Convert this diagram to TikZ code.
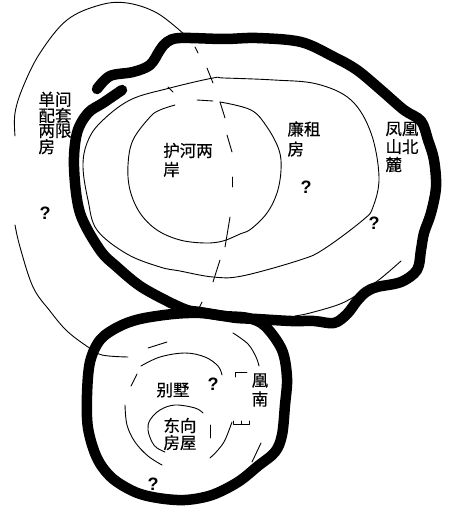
\documentclass[tikz,border=0pt]{standalone}
\usepackage{fontspec}
\setmainfont{Liberation Sans}
\newfontfamily\cjk[FakeBold=0.35]{Noto Sans CJK SC}
\begin{document}
\begin{tikzpicture}[x=1pt,y=-1pt,
  heavy/.style={line width=10.5pt, line cap=round, line join=round},
  thin/.style={line width=0.9pt, line cap=round, line join=round},
  lbl/.style={font=\cjk\fontsize{16.5}{#1}\selectfont, align=left, inner sep=0pt},
  qm/.style={font=\bfseries\fontsize{18}{18}\selectfont, inner sep=0pt}]
\useasboundingbox (0,0) rectangle (448,508);

% ---------- thin outer loop (single rooms) ----------
\draw[thin] plot[smooth, tension=0.6] coordinates {(185,35) (157,13) (127,3) (100,5) (67,20) (40,53) (23,87) (15,113) (15,136)};
\draw[thin] plot[smooth, tension=0.6] coordinates {(15,225) (20,247) (33,287) (50,311) (67,331) (88,347) (102,355) (128,357)};
\draw[thin] (148,348) -- (167,342);
% dashed right side
\draw[thin] (195,47) -- (198,53);
\draw[thin] (207,68) -- (213,83);
\draw[thin] (220,102) -- (225,118);
\draw[thin] (227,135) -- (232,152);
\draw[thin] (232,177) -- (232,187);
\draw[thin] (230,217) -- (225,247);
\draw[thin] (220,260) -- (213,282);
\draw[thin] (202,302) -- (198,310);

% ---------- middle ellipse ----------
\draw[thin] plot[smooth cycle, tension=0.6] coordinates {(224,78) (274,80) (317,84) (351,100) (371,133) (379,177) (373,207) (363,220) (324,249) (300,260) (242,276) (213,277) (180,271) (160,267) (127,254) (97,230) (88,200) (83,167) (87,143) (100,123) (130,100) (170,88) (213,78)};
\draw[thin] (168,87) -- (173,92);

% ---------- inner circle ----------
\draw[thin] plot[smooth, tension=0.6] coordinates {(220,102) (251,110) (267,127) (279,150) (281,170) (277,193) (267,213) (251,229) (240,234) (223,241) (205,243) (180,240) (157,230) (140,213) (130,190) (128,165) (133,140) (150,117) (160,110) (175,105)};
\draw[thin] (197,100) -- (213,101);

% ---------- thin line near lower right of big blob ----------
\draw[thin] plot[smooth, tension=0.6] coordinates {(401,261) (380,279) (360,293) (340,304) (310,313) (295,316)};

% ---------- heavy outlines ----------
\draw[heavy] plot[smooth, tension=0.55] coordinates {(97,89) (110,76) (133,72) (150,65) (160,50) (167,42) (180,38) (224,39) (257,38) (301,42) (334,57) (357,70) (381,90) (404,110) (421,121) (428,140) (434,160) (436,187) (431,213) (424,233) (421,250) (417,270) (401,282) (377,287) (366,292) (357,301) (347,314) (334,323) (314,321) (291,321) (257,319) (237,318) (224,316) (200,312) (187,310) (167,301) (140,286) (117,267) (100,250) (80,213) (74,167) (77,133) (88,113) (103,103) (122,90)};
\draw[heavy] plot[smooth cycle, tension=0.55] coordinates {(224,316) (248,318) (265,326) (282,350) (287,378) (285,405) (282,435) (275,452) (258,466) (238,482) (212,495) (185,500) (158,498) (135,492) (112,478) (97,458) (88,428) (87,395) (90,362) (100,340) (118,327) (140,319) (173,314) (200,313)};

% ---------- lower loop interior ----------
\draw[thin] (131,386) -- (137,374);
\draw[thin] plot[smooth, tension=0.6] coordinates {(141,366) (160,357) (185,353) (205,357) (218,366) (222,375)};
\draw[thin] plot[smooth, tension=0.6] coordinates {(125,405) (127,425) (135,442) (148,456) (162,465)};
\draw[thin] plot[smooth, tension=0.6] coordinates {(232,422) (225,440) (218,450) (210,458)};
\draw[thin] plot[smooth, tension=0.6] coordinates {(233,333) (248,344) (256,357) (259,366)};
\draw[thin] (261,443) -- (252,462);
\draw[thin] plot[smooth, tension=0.6] coordinates {(203,413) (195,408) (175,405) (160,410) (150,420) (148,430) (152,442) (157,448) (165,452)};
\draw[thin] (210,425) -- (210,438);
\draw[thin] (235,377) -- (235,372) -- (247,372);
\draw[thin] (233,421) -- (233,424) -- (241,424) -- (241,421) (241,424) -- (249,424) -- (249,421);

% ---------- labels ----------
\node[lbl=15] (dan) at (55,123) {单间\\配套\\两限\\房};
\node[lbl=19] (hu) at (188,160) {护河两\\岸};
\node[lbl=20] (lian) at (304,139) {廉租\\房};
\node[lbl=18] (feng) at (402,147) {凤凰\\山北\\麓};
\node[lbl=17] (bie) at (173,390) {别墅};
\node[lbl=17] (dong) at (180,434) {东向\\房屋};
\node[lbl=19] (huang) at (260,390) {凰\\南};

\node[qm] (q1) at (45,213) {?};
\node[qm] (q2) at (306,187) {?};
\node[qm] (q3) at (374,223) {?};
\node[qm] (q4) at (213,384) {?};
\node[qm] (q5) at (153,484) {?};
\end{tikzpicture}
\end{document}
